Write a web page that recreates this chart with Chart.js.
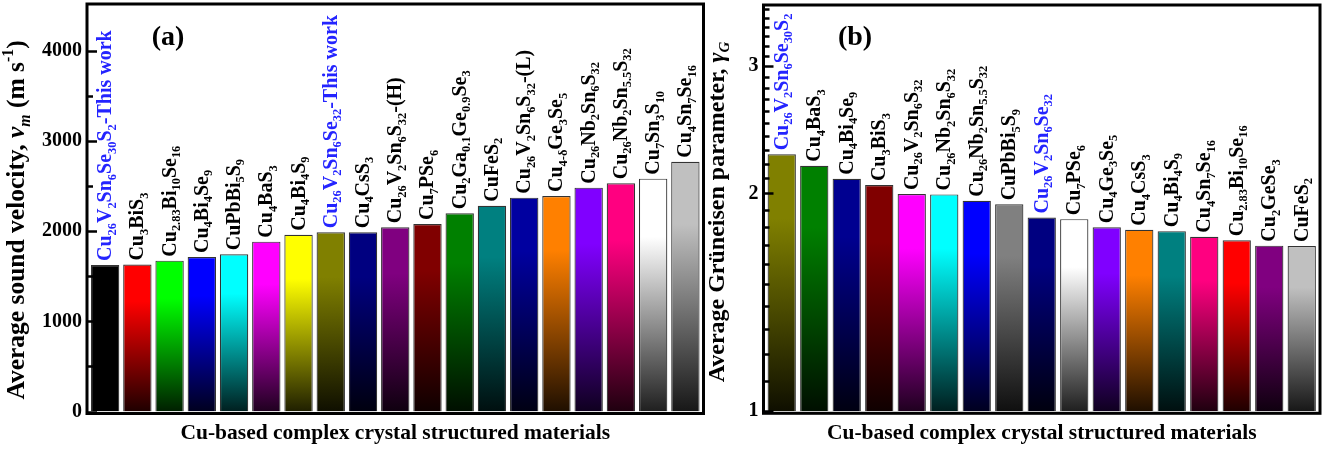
<!DOCTYPE html>
<html>
<head>
<meta charset="utf-8">
<script src="https://cdn.jsdelivr.net/npm/chart.js@4.4.1/dist/chart.umd.min.js"></script>
<style>
  body { margin: 0; background: #fff; }
  #boxA { position: absolute; left: 0; top: 0; width: 708px; height: 450px; }
  #boxB { position: absolute; left: 698px; top: 0; width: 640px; height: 450px; }
</style>
</head>
<body>
<div id="boxA"><canvas id="chartA"></canvas></div>
<div id="boxB"><canvas id="chartB"></canvas></div>
<script>
// (a) average sound velocity
var labelsA = [
  'Cu_{26}V_{2}Sn_{6}Se_{30}S_{2}-This work', 'Cu_{3}BiS_{3}', 'Cu_{2.83}Bi_{10}Se_{16}', 'Cu_{4}Bi_{4}Se_{9}',
  'CuPbBi_{5}S_{9}', 'Cu_{4}BaS_{3}', 'Cu_{4}Bi_{4}S_{9}', 'Cu_{26}V_{2}Sn_{6}Se_{32}-This work',
  'Cu_{4}CsS_{3}', 'Cu_{26}V_{2}Sn_{6}S_{32}-(H)', 'Cu_{7}PSe_{6}', 'Cu_{2}Ga_{0.1}Ge_{0.9}Se_{3}',
  'CuFeS_{2}', 'Cu_{26}V_{2}Sn_{6}S_{32}-(L)', 'Cu_{4-δ}Ge_{3}Se_{5}', 'Cu_{26}Nb_{2}Sn_{6}S_{32}',
  'Cu_{26}Nb_{2}Sn_{5.5}S_{32}', 'Cu_{7}Sn_{3}S_{10}', 'Cu_{4}Sn_{7}Se_{16}'
];
var velocityA = [1626, 1630, 1674, 1715, 1745, 1885, 1962, 1989, 1990, 2044, 2081, 2200, 2284, 2373, 2392, 2484, 2533, 2584, 2772];
var colorsA = ['#000000', '#ff0000', '#00ff00', '#0000ff', '#00ffff', '#ff00ff', '#ffff00', '#808000', '#000080', '#800080',
  '#800000', '#008000', '#008080', '#0000a0', '#ff8000', '#8000ff', '#ff0080', '#ffffff', '#c0c0c0'];
var highlightA = [0, 7];
var majorTicksA = [0, 1000, 2000, 3000, 4000];
var minorTicksA = [500, 1500, 2500, 3500];

// (b) average Grüneisen parameter
var labelsB = [
  'Cu_{26}V_{2}Sn_{6}Se_{30}S_{2}', 'Cu_{4}BaS_{3}', 'Cu_{4}Bi_{4}Se_{9}', 'Cu_{3}BiS_{3}', 'Cu_{26}V_{2}Sn_{6}S_{32}',
  'Cu_{26}Nb_{2}Sn_{6}S_{32}', 'Cu_{26}Nb_{2}Sn_{5.5}S_{32}', 'CuPbBi_{5}S_{9}', 'Cu_{26}V_{2}Sn_{6}Se_{32}',
  'Cu_{7}PSe_{6}', 'Cu_{4}Ge_{3}Se_{5}', 'Cu_{4}CsS_{3}', 'Cu_{4}Bi_{4}S_{9}', 'Cu_{4}Sn_{7}Se_{16}',
  'Cu_{2.83}Bi_{10}Se_{16}', 'Cu_{2}GeSe_{3}', 'CuFeS_{2}'
];
var gruneisenB = [2.265, 2.184, 2.096, 2.054, 1.996, 1.994, 1.954, 1.932, 1.853, 1.843, 1.796, 1.782, 1.774, 1.743, 1.723, 1.694, 1.692];
var colorsB = ['#808000', '#008000', '#000090', '#800000', '#ff00ff', '#00ffff', '#0000ff', '#808080', '#000080',
  '#ffffff', '#8000ff', '#ff8000', '#008080', '#ff0080', '#ff0000', '#800080', '#c0c0c0'];
var highlightB = [0, 8];
var majorTicksB = [1, 2, 3];
var minorTicksB = [1.1, 1.2, 1.3, 1.4, 1.5, 1.6, 1.7, 1.8, 1.9, 2.1, 2.2, 2.3, 2.4, 2.5, 2.6, 2.7, 2.8, 2.9,
  3.1, 3.2, 3.3, 3.4, 3.5, 3.6];

var serif = '"Liberation Serif", "Times New Roman", serif';
var xTitle = 'Cu-based complex crystal structured materials';

function hexToRgb (h) {
  var n = parseInt(h.slice(1), 16);
  return [(n >> 16) & 255, (n >> 8) & 255, n & 255];
}

function barGradient (colors) {
  return function (c) {
    var base = colors[c.dataIndex];
    var chart = c.chart, area = chart.chartArea;
    if (!area || c.type !== 'data') return base;
    var top = chart.scales.y.getPixelForValue(c.raw);
    var dark = 'rgb(' + hexToRgb(base).map(function (v) { return Math.round(v * 0.12); }).join(',') + ')';
    var g = chart.ctx.createLinearGradient(0, top, 0, area.bottom);
    g.addColorStop(0, base);
    g.addColorStop(0.25, base);
    g.addColorStop(1, dark);
    return g;
  };
}

// "_{..}" subscript, "^{..}" superscript, "~{..}" italic, a leading "~" inside sub/sup makes it italic
function parseRich (s) {
  var out = [], buf = '', i = 0;
  while (i < s.length) {
    var ch = s[i];
    if ((ch === '_' || ch === '^' || ch === '~') && s[i + 1] === '{') {
      if (buf) { out.push({ t: buf, k: '', it: false }); buf = ''; }
      var j = s.indexOf('}', i);
      var inner = s.slice(i + 2, j);
      var it = ch === '~';
      if (inner[0] === '~') { it = true; inner = inner.slice(1); }
      out.push({ t: inner, k: ch === '~' ? '' : ch, it: it });
      i = j + 1;
    } else {
      buf += ch;
      i++;
    }
  }
  if (buf) out.push({ t: buf, k: '', it: false });
  return out;
}

function richText (ctx, text, size, x0, draw) {
  var x = x0;
  parseRich(text).forEach(function (s) {
    var small = s.k === '_' || s.k === '^';
    ctx.font = (s.it ? 'italic ' : '') + 'bold ' + (small ? size * 0.62 : size) + 'px ' + serif;
    var dy = s.k === '_' ? size * 0.22 : (s.k === '^' ? -size * 0.42 : 0);
    if (draw) ctx.fillText(s.t, x, dy);
    x += ctx.measureText(s.t).width;
  });
  return x - x0;
}

function decorPlugin (cfg) {
  return {
    id: 'decor',
    afterDatasetsDraw: function (chart) {
      var ctx = chart.ctx, a = chart.chartArea, ys = chart.scales.y;
      ctx.save();
      ctx.textBaseline = 'alphabetic';
      ctx.textAlign = 'left';

      chart.getDatasetMeta(0).data.forEach(function (bar, i) {
        ctx.save();
        ctx.translate(bar.x + 6, bar.y - 4);
        ctx.rotate(-Math.PI / 2);
        ctx.fillStyle = cfg.highlight.indexOf(i) >= 0 ? '#2424ff' : '#000';
        richText(ctx, cfg.labels[i], 20, 0, true);
        ctx.restore();
      });

      // frame
      ctx.strokeStyle = '#000';
      ctx.lineWidth = 3;
      ctx.strokeRect(a.left - 2, a.top - 2, a.right - a.left + 4, a.bottom - a.top + 4);

      // inward ticks on the left axis
      ctx.lineWidth = 2.5;
      cfg.major.concat(cfg.minor).forEach(function (v) {
        var len = cfg.major.indexOf(v) >= 0 ? 10 : 6;
        var py = Math.round(ys.getPixelForValue(v)) + 0.5;
        ctx.beginPath();
        ctx.moveTo(a.left - 2, py);
        ctx.lineTo(a.left - 2 + len, py);
        ctx.stroke();
      });

      // y title
      ctx.fillStyle = '#000';
      ctx.save();
      ctx.translate(cfg.titleX, cfg.titleY);
      ctx.rotate(-Math.PI / 2);
      var w = richText(ctx, cfg.yTitle, cfg.titleSize, 0, false);
      richText(ctx, cfg.yTitle, cfg.titleSize, -w / 2, true);
      ctx.restore();

      // panel letter
      ctx.font = 'bold 28px ' + serif;
      ctx.textAlign = 'center';
      ctx.textBaseline = 'middle';
      ctx.fillText(cfg.panel, cfg.panelX, cfg.panelY);
      ctx.restore();
    }
  };
}

function noPad (s) {
  s.paddingTop = 0;
  s.paddingBottom = 0;
  s.paddingLeft = 0;
  s.paddingRight = 0;
}

function makeOptions (yScale, right, top, xHeight, yWidth) {
  return {
    responsive: true,
    maintainAspectRatio: false,
    animation: false,
    events: [],
    layout: { padding: { left: 0, right: right, top: top, bottom: 0 } },
    plugins: { legend: { display: false }, tooltip: { enabled: false } },
    scales: {
      x: {
        ticks: { display: false },
        grid: { display: false, drawTicks: false },
        border: { display: false },
        title: {
          display: true, text: xTitle, color: '#000',
          font: { family: serif, size: 21.5, weight: 'bold' },
          padding: { top: 0, bottom: 4 }
        },
        afterFit: function (s) { s.height = xHeight; noPad(s); }
      },
      y: Object.assign({
        grid: { display: false, drawTicks: false },
        border: { display: false },
        ticks: {
          color: '#000', padding: 7,
          font: { family: serif, size: 20, weight: 'bold' },
          callback: function (v) { return String(v); }
        },
        afterFit: function (s) { s.width = yWidth; noPad(s); }
      }, yScale)
    }
  };
}

new Chart(document.getElementById('chartA'), {
  type: 'bar',
  data: {
    labels: labelsA,
    datasets: [{
      data: velocityA,
      backgroundColor: barGradient(colorsA),
      borderColor: '#333',
      borderWidth: 1.2,
      barPercentage: 0.88,
      categoryPercentage: 1
    }]
  },
  options: makeOptions({
    type: 'linear', min: 0, max: 4500,
    afterBuildTicks: function (s) { s.ticks = majorTicksA.map(function (v) { return { value: v }; }); }
  }, 6.5, 6, 38.5, 89),
  plugins: [decorPlugin({
    labels: labelsA, highlight: highlightA, major: majorTicksA, minor: minorTicksA,
    yTitle: 'Average sound velocity, ~{ν}_{~m} (m s^{-1})', titleX: 24, titleY: 220, titleSize: 25.5,
    panel: '(a)', panelX: 168, panelY: 38
  })]
});

new Chart(document.getElementById('chartB'), {
  type: 'bar',
  data: {
    labels: labelsB,
    datasets: [{
      data: gruneisenB,
      backgroundColor: barGradient(colorsB),
      borderColor: '#333',
      borderWidth: 1.2,
      barPercentage: 0.87,
      categoryPercentage: 1
    }]
  },
  options: makeOptions({
    type: 'logarithmic', min: 1, max: 3.62,
    afterBuildTicks: function (s) { s.ticks = majorTicksB.map(function (v) { return { value: v }; }); }
  }, 20, 7, 38.7, 67.5),
  plugins: [decorPlugin({
    labels: labelsB, highlight: highlightB, major: majorTicksB, minor: minorTicksB,
    yTitle: 'Average Grüneisen parameter, ~{γ}_{~G}', titleX: 26, titleY: 212, titleSize: 24,
    panel: '(b)', panelX: 157, panelY: 38
  })]
});
</script>
</body>
</html>
